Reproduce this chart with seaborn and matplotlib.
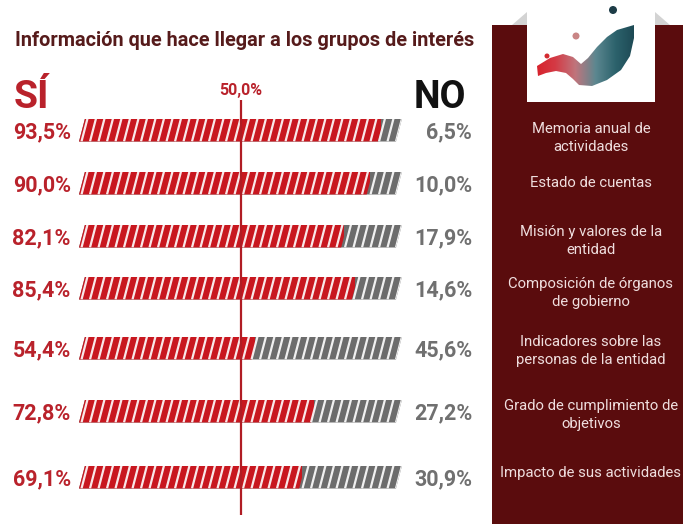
import numpy as np
import pandas as pd
import matplotlib
matplotlib.use("Agg")
import matplotlib.pyplot as plt
from matplotlib.collections import LineCollection
from matplotlib.colors import LinearSegmentedColormap
from matplotlib.patches import Polygon, Rectangle, Circle
import seaborn as sns

# ---- data ---------------------------------------------------------------
items = [
    "Memoria anual de\nactividades",
    "Estado de cuentas",
    "Misión y valores de la\nentidad",
    "Composición de órganos\nde gobierno",
    "Indicadores sobre las\npersonas de la entidad",
    "Grado de cumplimiento de\nobjetivos",
    "Impacto de sus actividades",
]
si = [93.5, 90.0, 82.1, 85.4, 54.4, 72.8, 69.1]
no = [6.5, 10.0, 17.9, 14.6, 45.6, 27.2, 30.9]
reference = 50.0

# ---- layout (figure pixels, measured from the top) ----------------------
W, H = 683, 524
row_y = [130, 183, 236, 288, 348, 411, 477]
item_y = [138, 183, 241, 293, 351, 415, 473]
bar_h = 23
x0_px, x100_px = 79, 402
slant_px = 6

RED = "#c8171f"
RED_TXT = "#b9222b"
GREY = "#6c6c6c"
GREY_TXT = "#707070"
MAROON = "#5a0c0d"

sns.set_theme(style="white")
plt.rcParams["font.family"] = ["Roboto", "DejaVu Sans"]

fig = plt.figure(figsize=(W / 100, H / 100), dpi=100)
ax = fig.add_axes([0, 0, 1, 1])

df = pd.DataFrame({"row": row_y, "si": si, "no": no})
df["total"] = df["si"] + df["no"]
width = bar_h / np.min(np.diff(row_y))

sns.barplot(data=df, x="total", y="row", orient="h", native_scale=True,
            width=width, color=GREY, saturation=1, linewidth=0,
            errorbar=None, ax=ax)
sns.barplot(data=df, x="si", y="row", orient="h", native_scale=True,
            width=width, color=RED, saturation=1, linewidth=0,
            errorbar=None, ax=ax)

px_per = (x100_px - x0_px) / 100.0
ax.set_xlim(-x0_px / px_per, (W - x0_px) / px_per)
ax.set_ylim(H, 0)
ax.axis("off")

s = slant_px / px_per
n = len(row_y)
grey_bars = ax.patches[:n]
red_bars = ax.patches[n:2 * n]

stripe_period = 100 / 38
for g, r in zip(grey_bars, red_bars):
    yt, yb = g.get_y(), g.get_y() + g.get_height()
    a, b = g.get_x(), g.get_x() + g.get_width()
    outline = Polygon([(a + s, yt), (b, yt), (b - s, yb), (a, yb)],
                      closed=True, transform=ax.transData)
    g.set_clip_path(outline)
    ra, rb = r.get_x(), r.get_x() + r.get_width()
    red_outline = Polygon([(ra + s, yt), (rb + s / 2, yt), (rb - s / 2, yb), (ra, yb)],
                          closed=True, transform=ax.transData)
    r.set_clip_path(red_outline)
    # slanted white stripes across the whole bar
    starts = np.arange(a - s, b + s, stripe_period)
    segs = [[(x, yb), (x + s, yt)] for x in starts]
    lc = LineCollection(segs, colors="white", linewidths=1.6, alpha=0.9, zorder=5)
    ax.add_collection(lc)
    lc.set_clip_path(outline)

# value labels on both sides
fmt = lambda v: f"{v:.1f}".replace(".", ",") + "%"
for y, vs, vn in zip(row_y, si, no):
    ax.annotate(fmt(vs), xy=(0, y), xytext=(-6, -1.5), textcoords="offset points",
                ha="right", va="center", fontsize=15.5, fontweight="bold", color=RED_TXT)
    ax.annotate(fmt(vn), xy=(100, y), xytext=(50.5, -1.5), textcoords="offset points",
                ha="right", va="center", fontsize=15.5, fontweight="bold", color=GREY_TXT)

# 50 % reference line
ax.plot([reference, reference], [100, 515], color="#b01c24", lw=1.6, zorder=6,
        solid_capstyle="butt")
ax.text(reference, 90, fmt(reference), ha="center", va="center", fontsize=11.5,
        fontweight="bold", color=RED_TXT)

# ---- decoration layer in pixel coordinates ------------------------------
deco = fig.add_axes([0, 0, 1, 1], facecolor="none")
deco.set_xlim(0, W)
deco.set_ylim(H, 0)
deco.axis("off")

deco.text(15, 46, "Información que hace llegar a los grupos de interés",
          ha="left", va="baseline", fontsize=14.3, fontweight="bold", color="#561b1b")
deco.text(14, 108, "SÍ", ha="left", va="baseline", fontsize=28,
          fontweight="bold", color=RED_TXT)
deco.text(414, 108, "NO", ha="left", va="baseline", fontsize=27,
          fontweight="bold", color="#111111")

# right panel
deco.add_patch(Rectangle((492, 25), W - 492, H - 25, facecolor=MAROON,
                         edgecolor="none", zorder=1))
deco.add_patch(Polygon([(527, 12), (512, 25), (527, 25)], closed=True,
                       facecolor="#d3d3d3", edgecolor="none", zorder=2))
deco.add_patch(Polygon([(655, 12), (670, 25), (655, 25)], closed=True,
                       facecolor="#d3d3d3", edgecolor="none", zorder=2))
deco.add_patch(Rectangle((527, 0), 128, 102, facecolor="white",
                         edgecolor="none", zorder=3))

# emblem: ribbon with red-to-teal gradient and three dots
ribbon_pts = [(537, 66), (550, 58), (563, 54), (573, 57), (581, 64), (588, 58),
              (597, 47), (607, 37), (617, 30), (634, 25), (634, 38), (630, 56),
              (621, 70), (607, 80), (592, 86), (579, 85), (573, 79), (566, 73),
              (556, 71), (546, 73), (538, 76)]
ribbon = Polygon(ribbon_pts, closed=True, facecolor="none", edgecolor="none",
                 zorder=4)
deco.add_patch(ribbon)
cmap = LinearSegmentedColormap.from_list(
    "ribbon", ["#d8202a", "#d43a45", "#c0757c", "#5c8790", "#2c626c", "#1c4752"])
im = deco.imshow(np.linspace(0, 1, 256)[None, :], cmap=cmap, aspect="auto",
                 extent=(535, 636, 88, 22), zorder=4, interpolation="bilinear")
im.set_clip_path(ribbon)
deco.add_patch(Circle((613, 10), 4, facecolor="#1d3c47", edgecolor="none", zorder=5))
deco.add_patch(Circle((576, 36), 3.5, facecolor="#c98585", edgecolor="none", zorder=5))
deco.add_patch(Circle((547, 56), 2.5, facecolor="#d42a30", edgecolor="none", zorder=5))
deco.set_xlim(0, W)
deco.set_ylim(H, 0)

for y, label in zip(item_y, items):
    deco.text(591, y, label, ha="center", va="center", fontsize=10.7,
              color="#efdede", linespacing=1.4, zorder=6)

fig.savefig("out.png", dpi=100)
